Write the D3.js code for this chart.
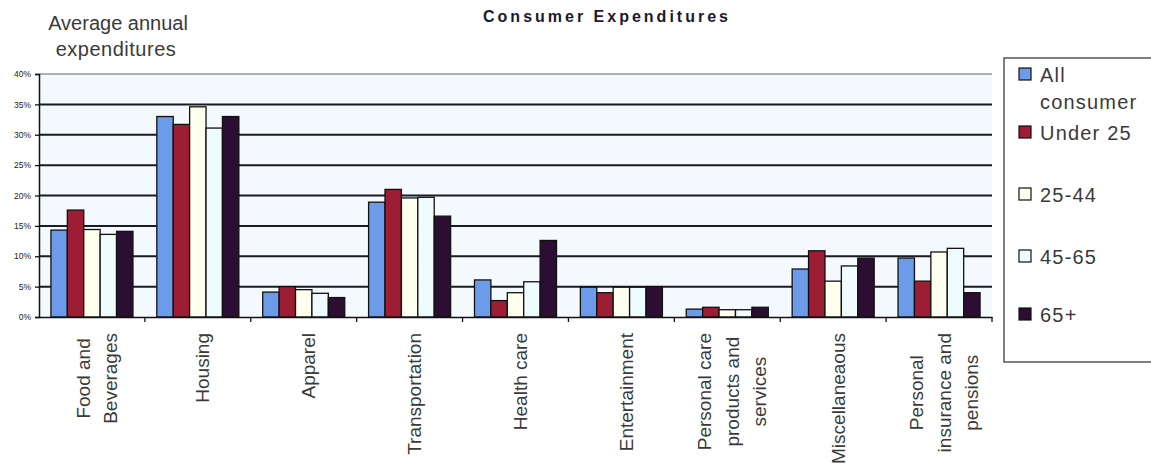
<!DOCTYPE html>
<html>
<head>
<meta charset="utf-8">
<script src="https://cdn.jsdelivr.net/npm/d3@7"></script>
<style>
  html, body { margin: 0; padding: 0; background: #ffffff; }
  svg { display: block; font-family: "Liberation Sans", Arial, sans-serif; }
</style>
</head>
<body>
<svg id="chart" width="1151" height="469"></svg>
<script>
const categories = ["Food and Beverages", "Housing", "Apparel", "Transportation", "Health care",
  "Entertainment", "Personal care products and services", "Miscellaneaous", "Personal insurance and pensions"];
const categoryLines = [["Food and", "Beverages"], ["Housing"], ["Apparel"], ["Transportation"], ["Health care"],
  ["Entertainment"], ["Personal care", "products and", "services"], ["Miscellaneaous"], ["Personal", "insurance and", "pensions"]];
const seriesNames = ["All consumer", "Under 25", "25-44", "45-65", "65+"];
const legendLines = [["All", "consumer"], ["Under 25"], ["25-44"], ["45-65"], ["65+"]];
const allConsumer = [14.3, 33.0, 4.1, 18.9, 6.1, 4.9, 1.3, 7.9, 9.7];
const under25     = [17.6, 31.7, 5.0, 21.0, 2.7, 4.0, 1.6, 10.9, 5.9];
const age25to44   = [14.4, 34.6, 4.5, 19.6, 4.0, 4.9, 1.2, 5.9, 10.7];
const age45to65   = [13.6, 31.1, 3.9, 19.7, 5.8, 4.9, 1.2, 8.4, 11.3];
const age65plus   = [14.1, 33.0, 3.2, 16.6, 12.6, 5.0, 1.6, 9.7, 4.0];
const seriesValues = [allConsumer, under25, age25to44, age45to65, age65plus];
const yTicks = [0, 5, 10, 15, 20, 25, 30, 35, 40];
const colors = ["#6b9be9", "#9c1d34", "#fffff0", "#eefbff", "#2b0e31"];

const svg = d3.select("#chart");
const plot = { left: 39, right: 992, top: 74, bottom: 317 };

const x0 = d3.scaleBand().domain(categories).range([plot.left, plot.right]).padding(0);
const x1 = d3.scaleBand().domain(seriesNames).range([0, x0.bandwidth()]).paddingInner(0).paddingOuter(0.727);
const y = d3.scaleLinear().domain([0, 40]).range([plot.bottom, plot.top]);

// plot background
svg.append("rect").attr("x", plot.left).attr("y", plot.top)
  .attr("width", plot.right - plot.left).attr("height", plot.bottom - plot.top)
  .attr("fill", "#f3f9fc");

// gridlines
svg.append("g").selectAll("line").data(yTicks.filter(d => d > 0)).join("line")
  .attr("x1", plot.left).attr("x2", plot.right)
  .attr("y1", d => y(d)).attr("y2", d => y(d))
  .attr("stroke", d => d === 40 ? "#666" : "#1b1b26")
  .attr("stroke-width", d => d === 40 ? 1 : 2);

// bars
const groups = svg.append("g").selectAll("g").data(categories).join("g")
  .attr("transform", d => `translate(${x0(d)},0)`);
groups.selectAll("rect").data((c, i) => seriesNames.map((s, j) => ({ s, j, v: seriesValues[j][i] })))
  .join("rect")
  .attr("x", d => x1(d.s)).attr("width", x1.bandwidth())
  .attr("y", d => y(d.v)).attr("height", d => y(0) - y(d.v))
  .attr("fill", d => colors[d.j]).attr("stroke", "#111").attr("stroke-width", 1.3);

// y axis
const yAxis = d3.axisLeft(y).tickValues(yTicks).tickFormat(d => d + "%").tickSize(4).tickPadding(4);
const yg = svg.append("g").attr("transform", `translate(${plot.left},0)`).call(yAxis);
yg.select(".domain").attr("stroke", "#111").attr("stroke-width", 1.5);
yg.selectAll(".tick line").attr("stroke", "#111").attr("stroke-width", 1.3);
yg.selectAll(".tick text").attr("font-size", 8.5).attr("fill", "#222").attr("font-family", "Liberation Sans, Arial, sans-serif");

// x axis
const xAxis = d3.axisBottom(x0).tickSize(0).tickFormat("");
const xg = svg.append("g").attr("transform", `translate(0,${plot.bottom})`).call(xAxis);
xg.select(".domain").attr("stroke", "#111").attr("stroke-width", 1.5);
svg.append("g").selectAll("line").data(categories).join("line")
  .attr("x1", d => x0(d) + x0.bandwidth()).attr("x2", d => x0(d) + x0.bandwidth())
  .attr("y1", plot.bottom).attr("y2", plot.bottom + 5)
  .attr("stroke", "#111").attr("stroke-width", 1.3);

// x labels (rotated, multi-line, centered lines)
const lineGap = 27.5;
categories.forEach((c, i) => {
  const lines = categoryLines[i];
  const g = svg.append("g")
    .attr("transform", `translate(${x0(c) + x0.bandwidth() / 2},${plot.bottom + 16}) rotate(-90)`);
  const texts = lines.map((ln, k) => g.append("text")
    .attr("text-anchor", "middle")
    .attr("y", 11.5 + (k - (lines.length - 1) / 2) * lineGap)
    .attr("font-size", 19).attr("fill", "#3a3a3a")
    .text(ln));
  const maxLen = d3.max(texts, t => t.node().getComputedTextLength());
  texts.forEach(t => t.attr("x", -maxLen / 2));
});

// title
svg.append("text").attr("x", 607).attr("y", 22).attr("text-anchor", "middle")
  .attr("font-size", 16).attr("font-weight", "bold").attr("letter-spacing", 3)
  .attr("fill", "#1a1a2e").text("Consumer Expenditures");

// y axis title
svg.append("text").attr("x", 118).attr("y", 30).attr("text-anchor", "middle")
  .attr("font-size", 20).attr("fill", "#3a3a3a").text("Average annual");
svg.append("text").attr("x", 116).attr("y", 56).attr("text-anchor", "middle")
  .attr("font-size", 20).attr("fill", "#3a3a3a").attr("letter-spacing", 0.5).text("expenditures");

// legend
svg.append("rect").attr("x", 1004).attr("y", 58).attr("width", 170).attr("height", 304)
  .attr("fill", "#ffffff").attr("stroke", "#555").attr("stroke-width", 1.5);
const legendTops = [68, 126, 188, 250, 308];
seriesNames.forEach((s, j) => {
  svg.append("rect").attr("x", 1019).attr("y", legendTops[j]).attr("width", 12).attr("height", 12)
    .attr("fill", colors[j]).attr("stroke", "#111").attr("stroke-width", 1.2);
  legendLines[j].forEach((ln, k) => {
    svg.append("text").attr("x", 1040).attr("y", legendTops[j] + 14 + k * 27)
      .attr("font-size", 20).attr("letter-spacing", 1.2).attr("fill", "#3a3a3a").text(ln);
  });
});
</script>
</body>
</html>
